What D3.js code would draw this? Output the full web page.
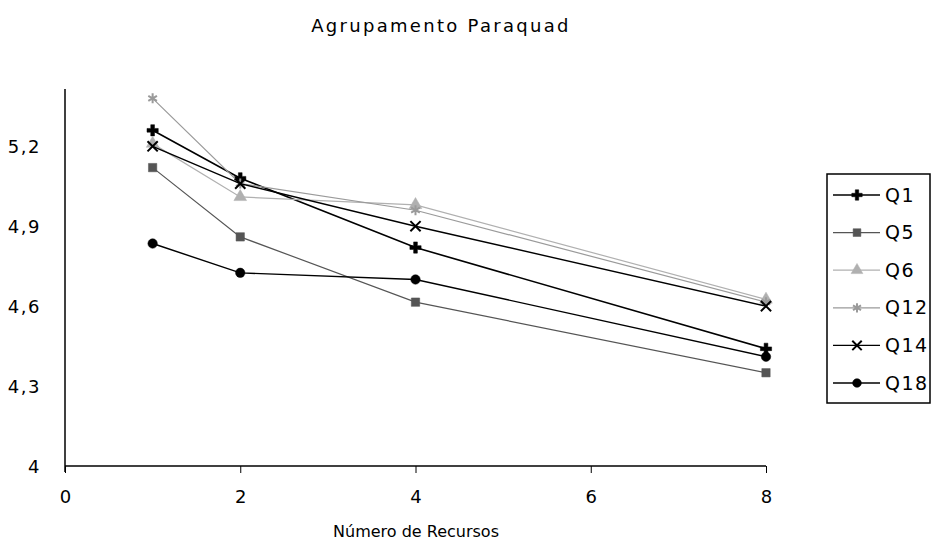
<!DOCTYPE html>
<html>
<head>
<meta charset="utf-8">
<script src="https://cdn.jsdelivr.net/npm/d3@7"></script>
<style>
  body { margin: 0; background: #fff; }
  text { font-family: "DejaVu Sans", Verdana, sans-serif; fill: #000; }
</style>
</head>
<body>
<div id="chart"></div>
<script>
// Data
const recursos = [1, 2, 4, 8];
const seriesNames = ["Q1", "Q5", "Q6", "Q12", "Q14", "Q18"];
const q1 = [5.26, 5.08, 4.82, 4.44];
const q5 = [5.12, 4.86, 4.615, 4.35];
const q6 = [5.21, 5.01, 4.98, 4.625];
const q12 = [5.38, 5.06, 4.96, 4.615];
const q14 = [5.20, 5.06, 4.90, 4.60];
const q18 = [4.835, 4.725, 4.70, 4.41];
const yTicks = [4, 4.3, 4.6, 4.9, 5.2];
const xTicks = [0, 2, 4, 6, 8];

const seriesValues = [q1, q5, q6, q12, q14, q18];
const colours = ["#000", "#555", "#b0b0b0", "#9a9a9a", "#000", "#000"];
const symbols = [d3.symbolCross, d3.symbolSquare, d3.symbolTriangle, d3.symbolAsterisk, d3.symbolX, d3.symbolCircle];
const widths = [1.6, 1.2, 1.2, 1.2, 1.4, 1.4];

const width = 943, height = 545;

const svg = d3.select("#chart").append("svg")
    .attr("width", width)
    .attr("height", height);

const x = d3.scaleLinear().domain([0, 8]).range([65, 766]);
const y = d3.scaleLinear().domain([4, 5.4]).range([466, 93]);

// title
svg.append("text")
    .attr("x", 441)
    .attr("y", 32)
    .attr("text-anchor", "middle")
    .style("font-size", "18px")
    .style("letter-spacing", "2.3px")
    .text("Agrupamento Paraquad");

// axes
const fmt = d => String(d).replace(".", ",");

svg.append("g")
    .attr("transform", "translate(0," + y(4) + ")")
    .call(d3.axisBottom(x).tickValues(xTicks).tickSize(7).tickPadding(17).tickFormat(d => d))
    .call(g => g.select(".domain").attr("stroke-width", 1.5).attr("d", "M65,0H766"))
    .call(g => g.selectAll("text").style("font-size", "18px"));

svg.append("g")
    .attr("transform", "translate(65,0)")
    .call(d3.axisLeft(y).tickValues(yTicks).tickSize(0).tickPadding(24).tickFormat(fmt))
    .call(g => g.select(".domain").attr("stroke-width", 1.5).attr("d", "M0,89V472"))
    .call(g => g.selectAll("text").style("font-size", "18px").style("letter-spacing", "1.5px").attr("dy", "0.35em"));

svg.append("text")
    .attr("x", 416)
    .attr("y", 537)
    .attr("text-anchor", "middle")
    .style("font-size", "16px")
    .text("Número de Recursos");

// lines
const line = d3.line()
    .x((d, i) => x(recursos[i]))
    .y(d => y(d));

const hollow = s => symbols[s] === d3.symbolAsterisk || symbols[s] === d3.symbolX;

seriesValues.forEach(function(vals, s) {
    svg.append("path")
        .datum(vals)
        .attr("fill", "none")
        .attr("stroke", colours[s])
        .attr("stroke-width", widths[s])
        .attr("d", line);

    svg.selectAll(".m" + s)
        .data(vals)
        .enter().append("path")
        .attr("class", "m" + s)
        .attr("transform", (d, i) => "translate(" + x(recursos[i]) + "," + y(d) + ")")
        .attr("d", d3.symbol().type(symbols[s]).size(70))
        .attr("fill", hollow(s) ? "none" : colours[s])
        .attr("stroke", colours[s])
        .attr("stroke-width", hollow(s) ? 2 : 0.5);
});

// legend
const legend = svg.append("g");
legend.append("rect")
    .attr("x", 827).attr("y", 174)
    .attr("width", 103).attr("height", 229)
    .attr("fill", "#fff")
    .attr("stroke", "#000")
    .attr("stroke-width", 1.5);

seriesNames.forEach(function(name, s) {
    const ly = 195 + s * 37.6;
    legend.append("line")
        .attr("x1", 833).attr("x2", 880)
        .attr("y1", ly).attr("y2", ly)
        .attr("stroke", colours[s])
        .attr("stroke-width", widths[s]);
    legend.append("path")
        .attr("transform", "translate(857," + ly + ")")
        .attr("d", d3.symbol().type(symbols[s]).size(60))
        .attr("fill", hollow(s) ? "none" : colours[s])
        .attr("stroke", colours[s])
        .attr("stroke-width", hollow(s) ? 2 : 0.5);
    legend.append("text")
        .attr("x", 885).attr("y", ly)
        .attr("dy", "0.35em")
        .style("font-size", "19px")
        .style("letter-spacing", "1.5px")
        .text(name);
});
</script>
</body>
</html>
